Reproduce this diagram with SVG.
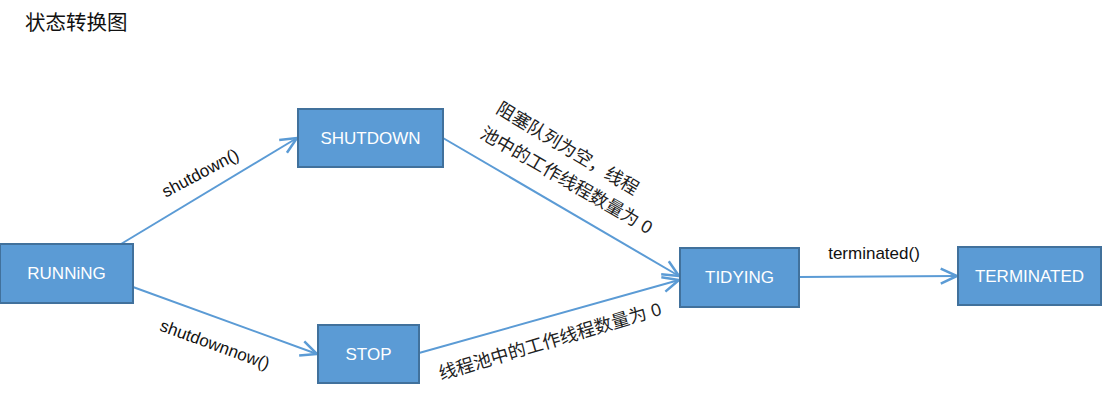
<svg xmlns="http://www.w3.org/2000/svg" width="1104" height="400" viewBox="0 0 1104 400">
<style>
.box{fill:#5b9bd5;stroke:#41719c;stroke-width:2}
.nt{font-family:"Liberation Sans",Arial,sans-serif;font-size:17px;fill:#ffffff;text-anchor:middle;dominant-baseline:central}
.lb{font-family:"Liberation Sans",Arial,sans-serif;font-size:17px;fill:#111111}
.cn{font-family:"Liberation Sans","Noto Sans CJK SC",sans-serif;font-size:18px;fill:#222222}
.ln{stroke:#5b9bd5;stroke-width:2;fill:none}
</style>
<defs>
<marker id="arr" markerUnits="userSpaceOnUse" markerWidth="20" markerHeight="20" viewBox="-14 -8 16 16" refX="0" refY="0" orient="auto">
<path d="M-13,-6 L0,0 L-13,6" fill="none" stroke="#5b9bd5" stroke-width="2"/>
</marker>
</defs>
<rect width="1104" height="400" fill="#ffffff"/>
<text x="25" y="30" style="font-family:'Noto Sans CJK SC',sans-serif;font-size:20.5px;fill:#111">状态转换图</text>
<g id="connectors">
<line class="ln" x1="121" y1="244" x2="297" y2="138" marker-end="url(#arr)"/>
<line class="ln" x1="133" y1="287" x2="317" y2="354" marker-end="url(#arr)"/>
<line class="ln" x1="443" y1="138" x2="679" y2="276" marker-end="url(#arr)"/>
<line class="ln" x1="419" y1="353" x2="679" y2="280" marker-end="url(#arr)"/>
<line class="ln" x1="799" y1="277" x2="957" y2="276" marker-end="url(#arr)"/>
<text class="lb" text-anchor="middle" transform="translate(203,178) rotate(-28)">shutdown()</text>
<text class="lb" text-anchor="middle" transform="translate(213,350) rotate(20)">shutdownnow()</text>
<text class="lb" text-anchor="middle" x="874" y="259">terminated()</text>
<text class="cn" transform="translate(495,112) rotate(31)">阻塞队列为空，线程</text>
<text class="cn" transform="translate(479,137) rotate(30)">池中的工作线程数量为 0</text>
<text class="cn" transform="translate(441,380) rotate(-16.5)">线程池中的工作线程数量为 0</text>
</g>
<g id="node-running"><rect class="box" x="0" y="244" width="133" height="59"/><text class="nt" x="66.5" y="273.5">RUNNiNG</text></g>
<g id="node-shutdown"><rect class="box" x="298" y="109" width="145" height="58"/><text class="nt" x="370.5" y="138">SHUTDOWN</text></g>
<g id="node-stop"><rect class="box" x="318" y="325" width="101" height="58"/><text class="nt" x="368.5" y="354">STOP</text></g>
<g id="node-tidying"><rect class="box" x="680" y="248" width="119" height="59"/><text class="nt" x="739.5" y="277.5">TIDYING</text></g>
<g id="node-terminated"><rect class="box" x="958" y="247" width="143" height="58"/><text class="nt" x="1029.5" y="276">TERMINATED</text></g>
</svg>
